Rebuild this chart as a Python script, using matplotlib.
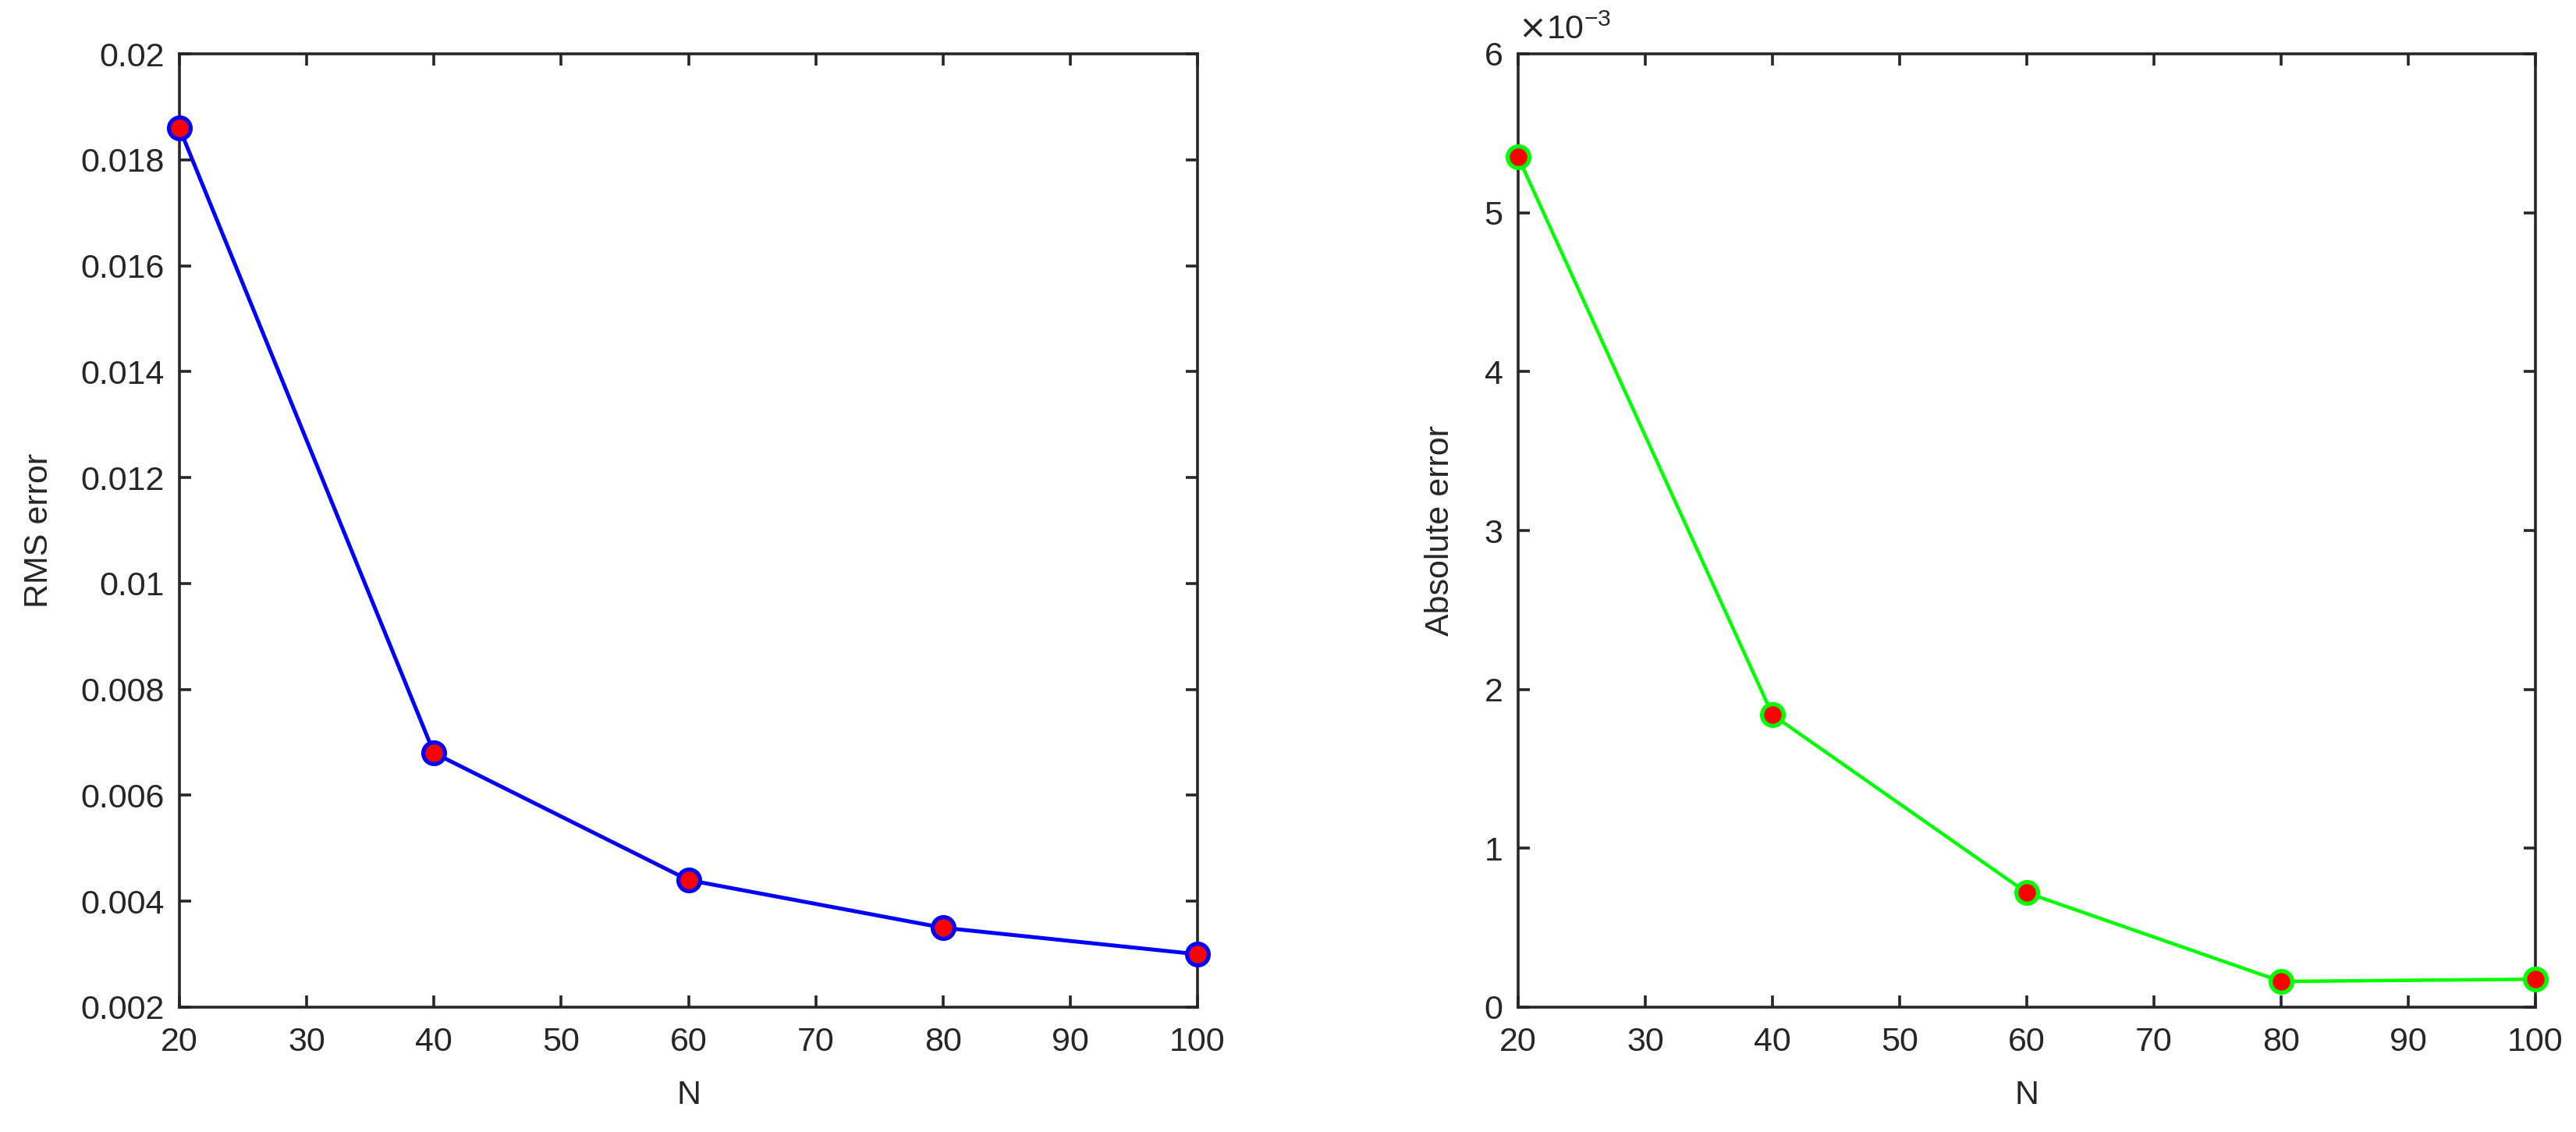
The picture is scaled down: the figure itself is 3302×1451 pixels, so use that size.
import matplotlib
matplotlib.use("Agg")
import matplotlib.pyplot as plt
from matplotlib.ticker import FuncFormatter

plt.rcParams['font.family'] = ['Liberation Sans', 'DejaVu Sans']

N = [20, 40, 60, 80, 100]
rms_error = [0.0186, 0.0068, 0.0044, 0.0035, 0.0030]
abs_error = [5.35e-3, 1.84e-3, 0.72e-3, 0.162e-3, 0.176e-3]

left_yticks = [0.002, 0.004, 0.006, 0.008, 0.01, 0.012, 0.014, 0.016, 0.018, 0.02]
left_yticklabels = ['0.002', '0.004', '0.006', '0.008', '0.01', '0.012', '0.014', '0.016', '0.018', '0.02']
right_yticks = [0, 1e-3, 2e-3, 3e-3, 4e-3, 5e-3, 6e-3]
xticks = [20, 30, 40, 50, 60, 70, 80, 90, 100]

W, H = 3302, 1451
fig = plt.figure(figsize=(W / 100, H / 100), dpi=100)
axc = '#262626'
fs = 31

def frac(x0, x1, ytop, ybot):
    return [x0 / W, (H - ybot) / H, (x1 - x0) / W, (ybot - ytop) / H]

ax1 = fig.add_axes(frac(230, 1535, 69, 1291))
ax2 = fig.add_axes(frac(1946, 3250, 69, 1291))

for ax in (ax1, ax2):
    for s in ax.spines.values():
        s.set_color(axc)
        s.set_linewidth(2.6)
    ax.tick_params(direction='in', length=10.5, width=2.6, color=axc,
                   labelcolor=axc, labelsize=fs, top=True, right=True)
    ax.tick_params(axis='y', pad=14)
    ax.tick_params(axis='x', pad=18)
    ax.set_xlim(20, 100)
    ax.set_xticks(xticks)
    ax.set_xlabel('N', fontsize=fs, color=axc, labelpad=20)

ax1.plot(N, rms_error, '-', color='#0000ff', linewidth=3.6, marker='o',
         markersize=20, markerfacecolor='#ff0000', markeredgecolor='#0000ff',
         markeredgewidth=3.8, clip_on=False, zorder=5)
ax1.set_ylim(0.002, 0.02)
ax1.set_yticks(left_yticks)
ax1.set_yticklabels(left_yticklabels)
ax1.set_ylabel('RMS error', fontsize=fs, color=axc, labelpad=24)

ax2.plot(N, abs_error, '-', color='#00ff00', linewidth=3.2, marker='o',
         markersize=20, markerfacecolor='#ff0000', markeredgecolor='#00ff00',
         markeredgewidth=3.8, clip_on=False, zorder=5)
ax2.set_ylim(0, 6e-3)
ax2.set_yticks(right_yticks)
ax2.yaxis.set_major_formatter(FuncFormatter(lambda v, p: '%g' % round(v * 1e3, 6)))
ax2.set_ylabel('Absolute error', fontsize=fs, color=axc, labelpad=26)
ax2.text(0.0, 1.008, r'$\times$10$^{\mathregular{-3}}$', transform=ax2.transAxes,
         fontsize=fs, color=axc, ha='left', va='bottom')

fig.savefig('out.png', dpi=100)
